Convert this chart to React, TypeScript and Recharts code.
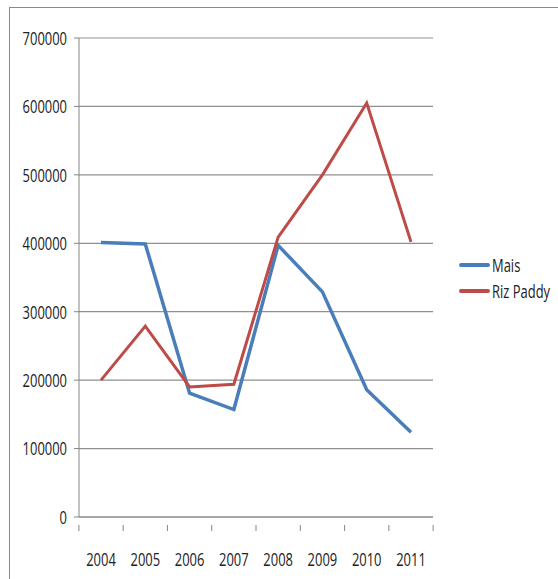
import { LineChart, Line, XAxis, YAxis, CartesianGrid } from "recharts";

const years = ["2004", "2005", "2006", "2007", "2008", "2009", "2010", "2011"];
const mais = [401000, 399000, 181000, 157000, 397000, 329000, 186000, 124000];
const rizPaddy = [200000, 279000, 190000, 194000, 409000, 500000, 605000, 402000];
const yTicks = [0, 100000, 200000, 300000, 400000, 500000, 600000, 700000];
const seriesNames = ["Mais", "Riz Paddy"];

const FONT = '"Open Sans", sans-serif';
const SQUEEZE = 0.72; // fake a narrow Calibri look
const BLUE = "#4A7EBB";
const RED = "#BE4B48";
const AXIS = "#868686";

const data = years.map((year, i) => ({ year, mais: mais[i], riz: rizPaddy[i] }));

// category ticks sit between the bands, labels in the middle
function YearTick(props: any) {
  const { x, y, payload, index } = props;
  const half = 354 / years.length / 2;
  return (
    <g>
      <line x1={x - half} y1={y} x2={x - half} y2={y + 6} stroke={AXIS} />
      {index === years.length - 1 && (
        <line x1={x + half} y1={y} x2={x + half} y2={y + 6} stroke={AXIS} />
      )}
      <text
        transform={`translate(${x},${y + 34}) scale(${SQUEEZE},1)`}
        textAnchor="middle"
        dominantBaseline="central"
        fontSize={18}
        fill="#222"
        fontFamily={FONT}
      >
        {payload.value}
      </text>
    </g>
  );
}

function ValueTick(props: any) {
  const { x, y, payload } = props;
  return (
    <text
      transform={`translate(${x},${y}) scale(${SQUEEZE},1)`}
      textAnchor="end"
      dominantBaseline="central"
      fontSize={18}
      fill="#222"
      fontFamily={FONT}
    >
      {payload.value}
    </text>
  );
}

function LegendBox() {
  const colors = [BLUE, RED];
  return (
    <div style={{ position: "absolute", left: 459, top: 252, fontFamily: FONT, fontSize: 18, color: "#222" }}>
      {seriesNames.map((name, i) => (
        <div key={name} style={{ display: "flex", alignItems: "center", height: 26, whiteSpace: "nowrap" }}>
          <div style={{ width: 31, height: 4, background: colors[i], borderRadius: 2, marginRight: 2 }} />
          <span style={{ display: "inline-block", transform: `scaleX(${SQUEEZE})`, transformOrigin: "left center" }}>
            {name}
          </span>
        </div>
      ))}
    </div>
  );
}

export default function App() {
  return (
    <div style={{ position: "absolute", left: 0, top: 0, width: 558, height: 579, background: "#fff", overflow: "hidden" }}>
      <div style={{ position: "absolute", left: 9, top: 7, width: 600, height: 600, border: "1px solid #8a8a8a" }} />
      <LineChart width={558} height={579} data={data} margin={{ top: 38, right: 125, bottom: 22, left: 0 }}>
        <CartesianGrid vertical={false} stroke="#8f8f8f" strokeWidth={1.2} />
        <XAxis
          dataKey="year"
          padding={{ left: 22, right: 22 }}
          tickLine={false}
          axisLine={{ stroke: AXIS }}
          tick={<YearTick />}
          height={40}
          interval={0}
        />
        <YAxis
          width={79}
          domain={[0, 700000]}
          ticks={yTicks}
          tickSize={5}
          tickMargin={7}
          tickLine={{ stroke: AXIS }}
          axisLine={{ stroke: AXIS }}
          tick={<ValueTick />}
        />
        <Line type="linear" dataKey="mais" name={seriesNames[0]} stroke={BLUE} strokeWidth={3.5} dot={false} isAnimationActive={false} />
        <Line type="linear" dataKey="riz" name={seriesNames[1]} stroke={RED} strokeWidth={3} dot={false} isAnimationActive={false} />
      </LineChart>
      <LegendBox />
    </div>
  );
}
